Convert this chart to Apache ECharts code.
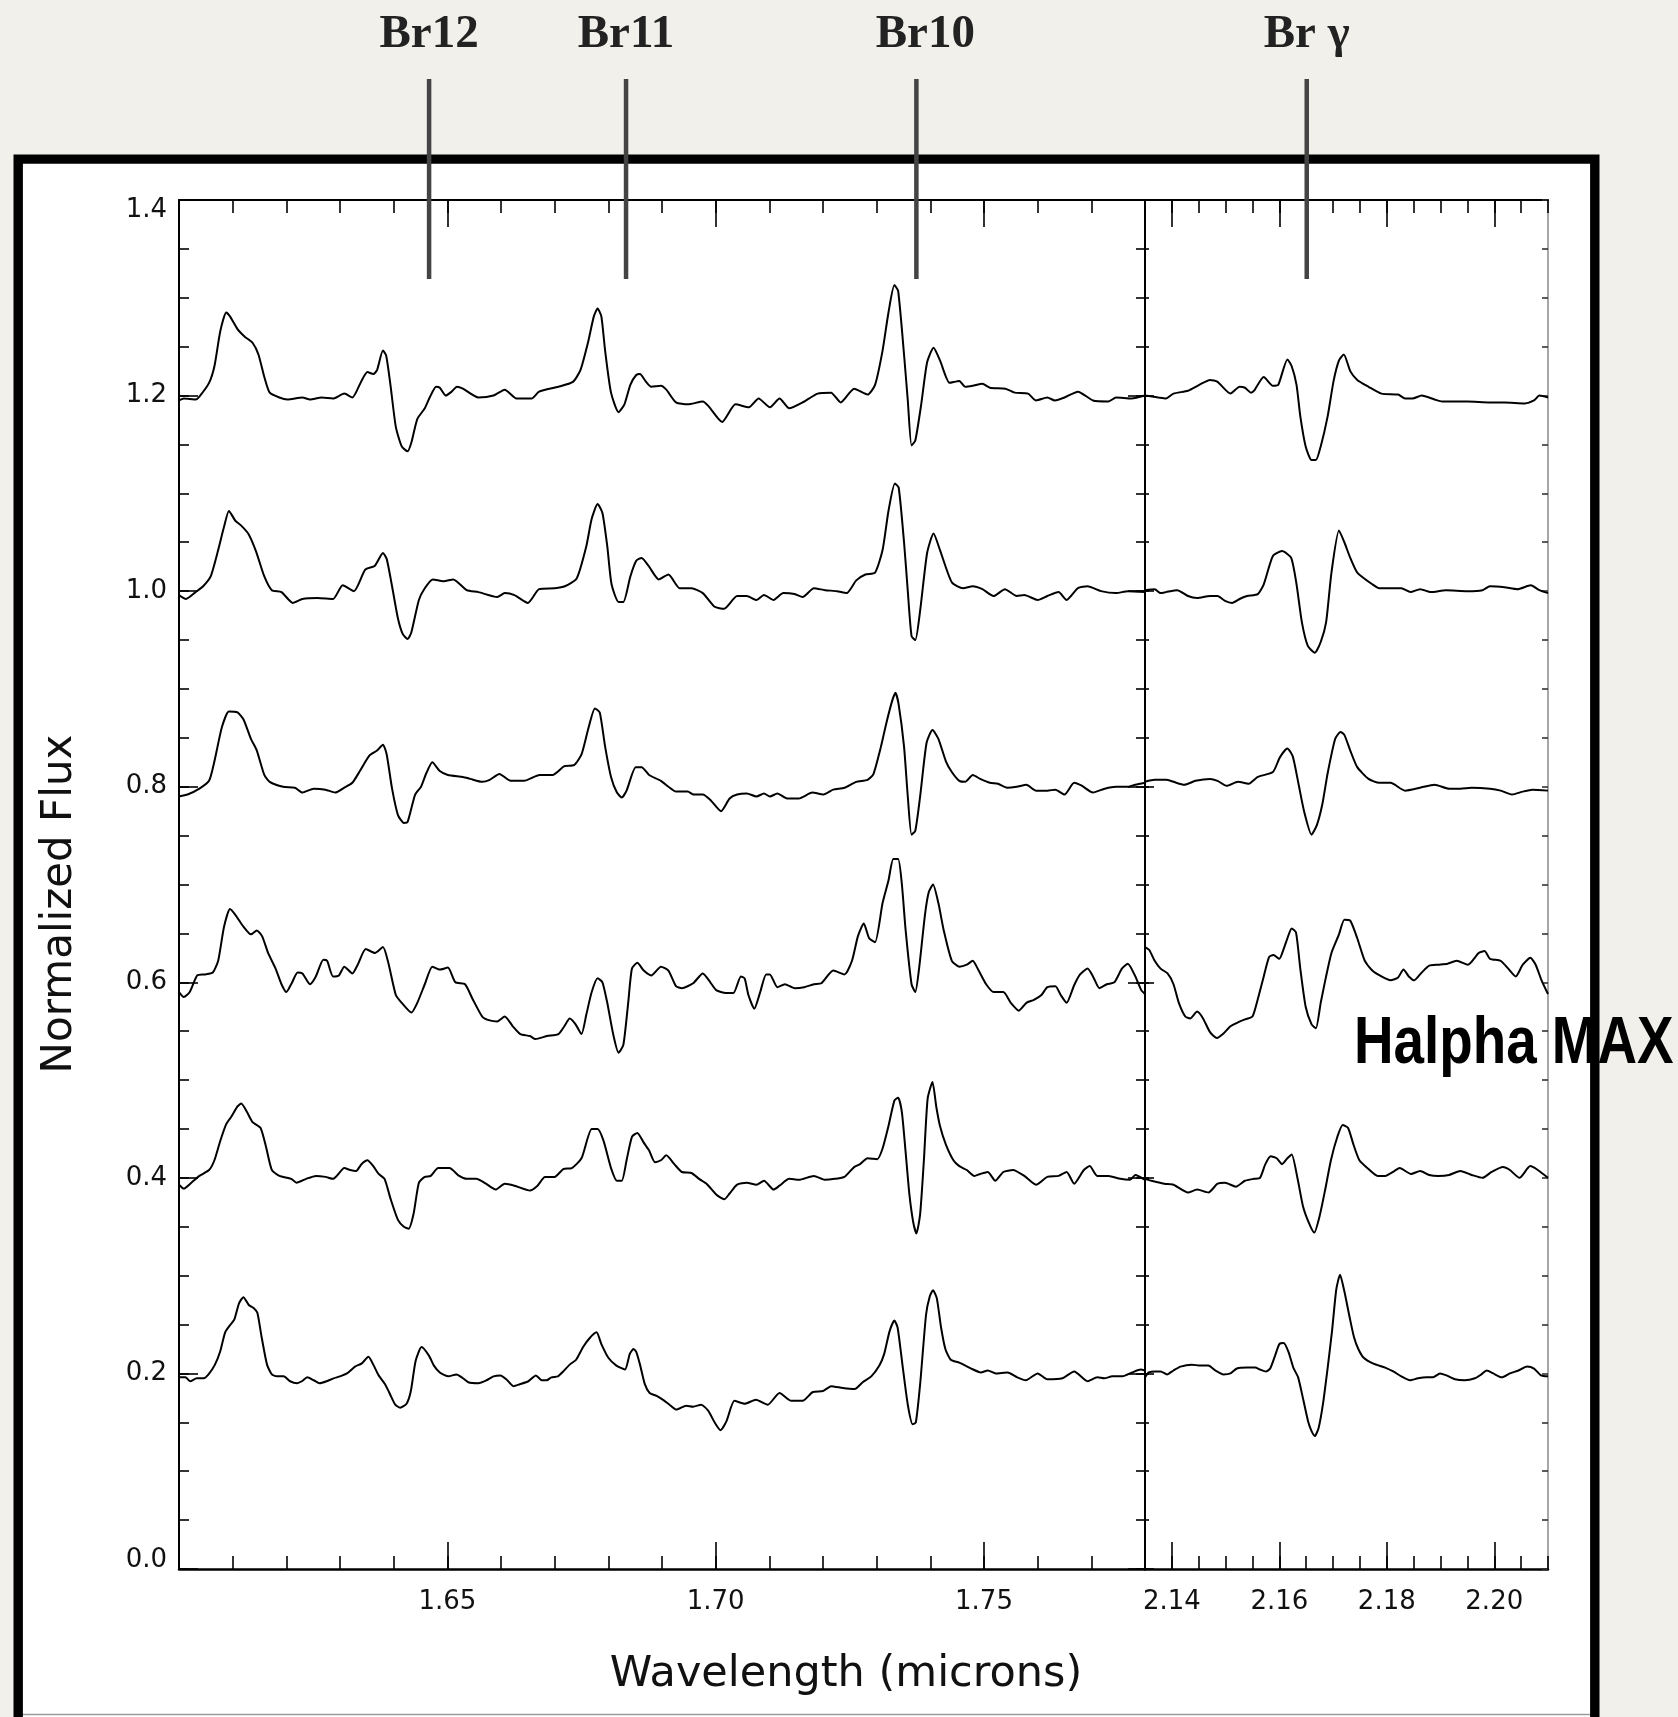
<!DOCTYPE html>
<html><head><meta charset="utf-8">
<script src="https://cdn.jsdelivr.net/npm/echarts@6/dist/echarts.min.js"></script>
<style>html,body{margin:0;padding:0;background:#f2f0eb;}#c{width:1678px;height:1717px;}</style>
</head><body><div id="c"></div>
<script>
// ---------- tick values ----------
const majorTicksLeft = [1.65, 1.70, 1.75];
const majorTicksRight = [2.14, 2.16, 2.18, 2.20];
const rangeLeft = [1.60, 1.78];
const rangeRight = [2.135, 2.21];
const fluxRange = [0, 1.4];

// ---------- line identifications ----------
const markerNames = ['Br12', 'Br11', 'Br10', 'Br γ'];
const markerWaves = [1.6466, 1.6833, 1.7374, 2.1651];

// ---------- spectra: [wavelength (micron), normalized flux] ----------
const s120L = [[1.6000,1.195],[1.6009,1.197],[1.6031,1.196],[1.6038,1.199],[1.6056,1.213],[1.6066,1.230],[1.6077,1.266],[1.6088,1.285],[1.6095,1.281],[1.6109,1.268],[1.6123,1.260],[1.6137,1.254],[1.6148,1.242],[1.6159,1.219],[1.6169,1.203],[1.6187,1.198],[1.6202,1.196],[1.6230,1.198],[1.6244,1.196],[1.6266,1.198],[1.6287,1.197],[1.6308,1.202],[1.6323,1.198],[1.6340,1.215],[1.6351,1.224],[1.6362,1.222],[1.6369,1.226],[1.6380,1.246],[1.6386,1.241],[1.6394,1.211],[1.6404,1.168],[1.6415,1.148],[1.6426,1.143],[1.6433,1.152],[1.6444,1.176],[1.6458,1.187],[1.6468,1.199],[1.6479,1.209],[1.6486,1.208],[1.6497,1.200],[1.6508,1.204],[1.6518,1.209],[1.6529,1.207],[1.6558,1.198],[1.6586,1.200],[1.6607,1.206],[1.6629,1.197],[1.6657,1.197],[1.6671,1.204],[1.6707,1.209],[1.6734,1.214],[1.6748,1.226],[1.6762,1.254],[1.6773,1.281],[1.6780,1.289],[1.6787,1.281],[1.6794,1.246],[1.6805,1.203],[1.6819,1.183],[1.6830,1.191],[1.6841,1.211],[1.6852,1.221],[1.6859,1.222],[1.6869,1.215],[1.6880,1.209],[1.6898,1.210],[1.6908,1.206],[1.6926,1.193],[1.6948,1.191],[1.6976,1.194],[1.6987,1.189],[1.7012,1.173],[1.7037,1.191],[1.7062,1.188],[1.7080,1.197],[1.7101,1.188],[1.7119,1.197],[1.7137,1.187],[1.7162,1.193],[1.7190,1.202],[1.7215,1.203],[1.7233,1.193],[1.7258,1.207],[1.7283,1.201],[1.7297,1.211],[1.7311,1.246],[1.7322,1.285],[1.7333,1.313],[1.7340,1.307],[1.7351,1.242],[1.7358,1.195],[1.7365,1.149],[1.7372,1.154],[1.7383,1.191],[1.7394,1.234],[1.7406,1.249],[1.7418,1.236],[1.7436,1.213],[1.7454,1.215],[1.7465,1.209],[1.7479,1.210],[1.7497,1.212],[1.7511,1.208],[1.7540,1.207],[1.7557,1.203],[1.7582,1.202],[1.7597,1.195],[1.7618,1.198],[1.7632,1.195],[1.7650,1.198],[1.7675,1.204],[1.7703,1.195],[1.7732,1.194],[1.7746,1.198],[1.7775,1.197],[1.7800,1.200]];
const s120R = [[2.1350,1.200],[2.1375,1.198],[2.1389,1.197],[2.1403,1.202],[2.1430,1.205],[2.1451,1.211],[2.1471,1.216],[2.1485,1.214],[2.1509,1.202],[2.1526,1.209],[2.1536,1.208],[2.1547,1.203],[2.1553,1.205],[2.1571,1.219],[2.1588,1.210],[2.1598,1.211],[2.1615,1.237],[2.1623,1.230],[2.1632,1.211],[2.1639,1.179],[2.1649,1.148],[2.1660,1.134],[2.1668,1.134],[2.1677,1.148],[2.1690,1.179],[2.1701,1.215],[2.1711,1.236],[2.1720,1.242],[2.1732,1.225],[2.1745,1.216],[2.1766,1.209],[2.1790,1.202],[2.1821,1.201],[2.1834,1.197],[2.1848,1.197],[2.1865,1.200],[2.1889,1.196],[2.1903,1.194],[2.1950,1.194],[2.1992,1.193],[2.2019,1.193],[2.2057,1.192],[2.2074,1.195],[2.2084,1.200],[2.2100,1.198]];

const s100L = [[1.6000,0.996],[1.6013,0.992],[1.6031,0.999],[1.6045,1.005],[1.6059,1.015],[1.6073,1.042],[1.6084,1.066],[1.6093,1.082],[1.6105,1.072],[1.6116,1.067],[1.6130,1.058],[1.6144,1.040],[1.6159,1.015],[1.6173,1.001],[1.6191,0.999],[1.6212,0.988],[1.6230,0.992],[1.6258,0.993],[1.6287,0.992],[1.6305,1.006],[1.6326,1.000],[1.6347,1.022],[1.6365,1.026],[1.6380,1.039],[1.6387,1.033],[1.6397,1.005],[1.6408,0.972],[1.6417,0.956],[1.6426,0.951],[1.6433,0.958],[1.6447,0.991],[1.6458,1.003],[1.6473,1.012],[1.6493,1.010],[1.6511,1.012],[1.6536,1.001],[1.6558,0.999],[1.6593,0.994],[1.6607,0.998],[1.6625,0.996],[1.6650,0.988],[1.6671,1.002],[1.6700,1.003],[1.6719,1.005],[1.6741,1.013],[1.6759,1.046],[1.6769,1.074],[1.6780,1.089],[1.6789,1.080],[1.6798,1.046],[1.6806,1.007],[1.6819,0.989],[1.6828,0.989],[1.6841,1.015],[1.6852,1.031],[1.6862,1.034],[1.6876,1.025],[1.6894,1.012],[1.6912,1.017],[1.6933,1.003],[1.6955,1.003],[1.6976,0.998],[1.6998,0.984],[1.7016,0.982],[1.7040,0.995],[1.7058,0.995],[1.7076,0.991],[1.7090,0.996],[1.7108,0.991],[1.7126,0.998],[1.7147,0.997],[1.7162,0.994],[1.7183,1.003],[1.7204,1.001],[1.7226,1.000],[1.7244,0.998],[1.7262,1.011],[1.7279,1.017],[1.7297,1.019],[1.7311,1.042],[1.7322,1.082],[1.7334,1.110],[1.7341,1.106],[1.7351,1.050],[1.7358,1.000],[1.7365,0.954],[1.7372,0.950],[1.7381,0.980],[1.7394,1.039],[1.7406,1.059],[1.7418,1.042],[1.7440,1.009],[1.7461,1.003],[1.7479,1.005],[1.7497,1.002],[1.7518,0.995],[1.7539,1.002],[1.7561,0.995],[1.7575,0.996],[1.7600,0.991],[1.7618,0.995],[1.7639,0.999],[1.7654,0.991],[1.7675,1.003],[1.7693,1.005],[1.7718,1.000],[1.7746,0.998],[1.7768,1.000],[1.7800,0.999]];
const s100R = [[2.1350,1.001],[2.1368,1.002],[2.1379,0.998],[2.1389,0.999],[2.1410,1.001],[2.1430,0.995],[2.1447,0.993],[2.1471,0.995],[2.1485,0.995],[2.1499,0.990],[2.1512,0.988],[2.1526,0.992],[2.1540,0.995],[2.1560,0.997],[2.1571,1.007],[2.1588,1.036],[2.1605,1.041],[2.1622,1.034],[2.1632,1.007],[2.1642,0.968],[2.1653,0.944],[2.1666,0.937],[2.1677,0.948],[2.1687,0.968],[2.1697,1.019],[2.1711,1.062],[2.1721,1.050],[2.1732,1.034],[2.1745,1.019],[2.1773,1.007],[2.1786,1.003],[2.1827,1.003],[2.1844,0.999],[2.1862,1.002],[2.1882,0.999],[2.1910,1.001],[2.1950,1.000],[2.1978,1.001],[2.1992,1.005],[2.2019,1.004],[2.2043,1.002],[2.2068,1.006],[2.2084,1.001],[2.2100,0.998]];

const s080L = [[1.6000,0.790],[1.6016,0.792],[1.6038,0.798],[1.6056,0.806],[1.6066,0.826],[1.6080,0.861],[1.6093,0.877],[1.6109,0.876],[1.6120,0.869],[1.6134,0.849],[1.6145,0.837],[1.6159,0.812],[1.6169,0.805],[1.6194,0.800],[1.6216,0.799],[1.6230,0.794],[1.6251,0.798],[1.6273,0.797],[1.6291,0.794],[1.6308,0.799],[1.6323,0.804],[1.6337,0.816],[1.6355,0.832],[1.6369,0.837],[1.6380,0.843],[1.6387,0.833],[1.6397,0.798],[1.6408,0.771],[1.6419,0.763],[1.6426,0.764],[1.6440,0.792],[1.6451,0.800],[1.6461,0.814],[1.6472,0.825],[1.6486,0.816],[1.6501,0.812],[1.6529,0.810],[1.6543,0.808],[1.6565,0.805],[1.6579,0.807],[1.6597,0.813],[1.6618,0.806],[1.6643,0.806],[1.6672,0.812],[1.6696,0.812],[1.6718,0.821],[1.6736,0.822],[1.6750,0.833],[1.6763,0.860],[1.6775,0.880],[1.6784,0.876],[1.6794,0.841],[1.6805,0.810],[1.6816,0.794],[1.6825,0.789],[1.6834,0.796],[1.6851,0.820],[1.6862,0.820],[1.6876,0.812],[1.6898,0.806],[1.6912,0.800],[1.6926,0.795],[1.6948,0.795],[1.6959,0.792],[1.6976,0.792],[1.6991,0.786],[1.7010,0.775],[1.7026,0.788],[1.7040,0.792],[1.7058,0.793],[1.7076,0.790],[1.7090,0.793],[1.7101,0.790],[1.7115,0.793],[1.7133,0.788],[1.7155,0.788],[1.7180,0.794],[1.7201,0.792],[1.7219,0.797],[1.7240,0.799],[1.7262,0.805],[1.7283,0.807],[1.7294,0.813],[1.7308,0.841],[1.7318,0.865],[1.7329,0.888],[1.7335,0.896],[1.7341,0.884],[1.7351,0.841],[1.7358,0.790],[1.7365,0.751],[1.7372,0.755],[1.7381,0.790],[1.7393,0.845],[1.7404,0.858],[1.7415,0.849],[1.7429,0.826],[1.7440,0.815],[1.7454,0.806],[1.7465,0.805],[1.7479,0.812],[1.7493,0.808],[1.7511,0.804],[1.7526,0.803],[1.7543,0.799],[1.7561,0.800],[1.7579,0.802],[1.7597,0.796],[1.7618,0.796],[1.7633,0.797],[1.7650,0.792],[1.7668,0.804],[1.7682,0.801],[1.7703,0.794],[1.7725,0.798],[1.7746,0.800],[1.7768,0.800],[1.7782,0.802],[1.7800,0.804]];
const s080R = [[2.1350,0.805],[2.1368,0.807],[2.1389,0.807],[2.1403,0.805],[2.1423,0.802],[2.1444,0.806],[2.1471,0.808],[2.1485,0.806],[2.1502,0.801],[2.1523,0.805],[2.1543,0.803],[2.1560,0.810],[2.1588,0.815],[2.1601,0.830],[2.1615,0.839],[2.1625,0.831],[2.1636,0.802],[2.1646,0.775],[2.1660,0.751],[2.1670,0.761],[2.1680,0.782],[2.1690,0.814],[2.1704,0.849],[2.1714,0.856],[2.1721,0.853],[2.1732,0.837],[2.1745,0.820],[2.1766,0.808],[2.1786,0.804],[2.1807,0.804],[2.1834,0.796],[2.1862,0.799],[2.1889,0.802],[2.1916,0.798],[2.1937,0.798],[2.1958,0.799],[2.1992,0.798],[2.2012,0.796],[2.2033,0.792],[2.2053,0.795],[2.2071,0.797],[2.2100,0.796]];

const s060L = [[1.6000,0.590],[1.6009,0.585],[1.6020,0.590],[1.6034,0.607],[1.6048,0.608],[1.6063,0.610],[1.6073,0.622],[1.6084,0.657],[1.6095,0.675],[1.6105,0.669],[1.6120,0.657],[1.6134,0.649],[1.6145,0.653],[1.6155,0.647],[1.6166,0.630],[1.6180,0.614],[1.6191,0.598],[1.6200,0.590],[1.6210,0.599],[1.6221,0.610],[1.6230,0.609],[1.6244,0.598],[1.6255,0.606],[1.6269,0.623],[1.6276,0.622],[1.6287,0.606],[1.6298,0.607],[1.6308,0.616],[1.6323,0.609],[1.6333,0.618],[1.6348,0.634],[1.6365,0.630],[1.6380,0.636],[1.6390,0.620],[1.6404,0.587],[1.6415,0.579],[1.6433,0.569],[1.6444,0.579],[1.6458,0.598],[1.6472,0.616],[1.6486,0.613],[1.6501,0.615],[1.6515,0.600],[1.6533,0.598],[1.6547,0.583],[1.6565,0.565],[1.6579,0.561],[1.6593,0.560],[1.6607,0.565],[1.6622,0.555],[1.6636,0.547],[1.6654,0.545],[1.6664,0.542],[1.6686,0.545],[1.6707,0.547],[1.6718,0.555],[1.6728,0.563],[1.6739,0.557],[1.6750,0.547],[1.6759,0.567],[1.6769,0.590],[1.6780,0.604],[1.6789,0.600],[1.6798,0.579],[1.6809,0.547],[1.6819,0.528],[1.6828,0.536],[1.6837,0.579],[1.6844,0.614],[1.6854,0.620],[1.6866,0.612],[1.6880,0.607],[1.6898,0.616],[1.6912,0.612],[1.6926,0.596],[1.6937,0.594],[1.6958,0.599],[1.6976,0.609],[1.6990,0.600],[1.7001,0.592],[1.7019,0.589],[1.7033,0.589],[1.7047,0.606],[1.7054,0.604],[1.7061,0.587],[1.7072,0.573],[1.7083,0.590],[1.7094,0.608],[1.7101,0.608],[1.7115,0.595],[1.7129,0.598],[1.7147,0.594],[1.7165,0.595],[1.7183,0.598],[1.7197,0.599],[1.7219,0.612],[1.7240,0.608],[1.7254,0.622],[1.7265,0.647],[1.7276,0.660],[1.7286,0.645],[1.7297,0.641],[1.7311,0.681],[1.7322,0.704],[1.7331,0.726],[1.7340,0.726],[1.7347,0.700],[1.7354,0.653],[1.7365,0.598],[1.7372,0.590],[1.7379,0.614],[1.7390,0.669],[1.7397,0.692],[1.7405,0.700],[1.7415,0.681],[1.7425,0.653],[1.7440,0.622],[1.7454,0.616],[1.7468,0.618],[1.7479,0.622],[1.7490,0.612],[1.7504,0.598],[1.7518,0.590],[1.7536,0.590],[1.7550,0.579],[1.7565,0.571],[1.7579,0.579],[1.7593,0.582],[1.7607,0.587],[1.7618,0.595],[1.7633,0.596],[1.7643,0.587],[1.7654,0.579],[1.7668,0.597],[1.7679,0.608],[1.7693,0.614],[1.7704,0.605],[1.7715,0.594],[1.7729,0.598],[1.7743,0.600],[1.7757,0.614],[1.7768,0.619],[1.7782,0.606],[1.7793,0.592],[1.7800,0.588]];
const s060R = [[2.1350,0.636],[2.1358,0.633],[2.1368,0.622],[2.1379,0.614],[2.1392,0.609],[2.1403,0.598],[2.1413,0.579],[2.1425,0.565],[2.1434,0.563],[2.1447,0.570],[2.1458,0.563],[2.1471,0.549],[2.1484,0.543],[2.1495,0.547],[2.1509,0.555],[2.1523,0.559],[2.1536,0.562],[2.1550,0.565],[2.1560,0.583],[2.1571,0.606],[2.1581,0.626],[2.1589,0.628],[2.1600,0.624],[2.1608,0.634],[2.1615,0.645],[2.1623,0.655],[2.1631,0.651],[2.1639,0.614],[2.1649,0.575],[2.1660,0.557],[2.1668,0.553],[2.1677,0.579],[2.1687,0.606],[2.1697,0.630],[2.1711,0.649],[2.1721,0.664],[2.1732,0.663],[2.1745,0.645],[2.1759,0.622],[2.1773,0.612],[2.1790,0.606],[2.1807,0.602],[2.1821,0.605],[2.1831,0.613],[2.1841,0.606],[2.1851,0.602],[2.1865,0.610],[2.1879,0.617],[2.1896,0.618],[2.1913,0.619],[2.1930,0.622],[2.1951,0.618],[2.1971,0.630],[2.1982,0.632],[2.1992,0.624],[2.2012,0.622],[2.2026,0.614],[2.2040,0.606],[2.2053,0.618],[2.2067,0.625],[2.2077,0.618],[2.2088,0.602],[2.2100,0.588]];

const s040L = [[1.6000,0.393],[1.6009,0.389],[1.6023,0.395],[1.6038,0.402],[1.6056,0.408],[1.6066,0.418],[1.6077,0.438],[1.6088,0.455],[1.6098,0.463],[1.6109,0.473],[1.6116,0.476],[1.6127,0.467],[1.6137,0.457],[1.6152,0.451],[1.6162,0.432],[1.6173,0.408],[1.6187,0.402],[1.6209,0.399],[1.6219,0.395],[1.6237,0.399],[1.6255,0.402],[1.6273,0.401],[1.6287,0.399],[1.6294,0.402],[1.6308,0.410],[1.6319,0.408],[1.6330,0.407],[1.6340,0.414],[1.6351,0.418],[1.6362,0.412],[1.6372,0.404],[1.6383,0.399],[1.6394,0.379],[1.6408,0.357],[1.6419,0.350],[1.6428,0.348],[1.6437,0.363],[1.6447,0.395],[1.6458,0.401],[1.6469,0.402],[1.6483,0.410],[1.6504,0.410],[1.6522,0.402],[1.6536,0.399],[1.6554,0.399],[1.6572,0.394],[1.6590,0.388],[1.6607,0.394],[1.6625,0.392],[1.6654,0.387],[1.6668,0.392],[1.6682,0.401],[1.6700,0.401],[1.6716,0.409],[1.6732,0.410],[1.6750,0.420],[1.6769,0.450],[1.6780,0.450],[1.6791,0.438],[1.6805,0.410],[1.6816,0.397],[1.6825,0.397],[1.6834,0.418],[1.6844,0.442],[1.6854,0.446],[1.6866,0.436],[1.6876,0.428],[1.6887,0.416],[1.6898,0.418],[1.6908,0.423],[1.6923,0.414],[1.6937,0.406],[1.6955,0.405],[1.6969,0.399],[1.6983,0.394],[1.7001,0.383],[1.7016,0.378],[1.7026,0.384],[1.7040,0.393],[1.7058,0.395],[1.7076,0.393],[1.7090,0.397],[1.7108,0.388],[1.7119,0.392],[1.7137,0.399],[1.7155,0.398],[1.7183,0.402],[1.7204,0.398],[1.7222,0.399],[1.7240,0.401],[1.7258,0.411],[1.7269,0.414],[1.7283,0.420],[1.7301,0.419],[1.7311,0.430],[1.7322,0.453],[1.7333,0.479],[1.7340,0.482],[1.7347,0.467],[1.7354,0.426],[1.7361,0.383],[1.7368,0.355],[1.7374,0.343],[1.7381,0.363],[1.7388,0.418],[1.7395,0.481],[1.7404,0.498],[1.7411,0.473],[1.7418,0.453],[1.7429,0.434],[1.7443,0.418],[1.7454,0.412],[1.7468,0.408],[1.7482,0.402],[1.7493,0.404],[1.7507,0.406],[1.7521,0.397],[1.7536,0.406],[1.7554,0.408],[1.7575,0.402],[1.7597,0.393],[1.7618,0.401],[1.7639,0.402],[1.7654,0.406],[1.7668,0.394],[1.7686,0.408],[1.7697,0.412],[1.7711,0.402],[1.7732,0.402],[1.7754,0.399],[1.7772,0.398],[1.7782,0.403],[1.7800,0.398]];
const s040R = [[2.1350,0.399],[2.1362,0.397],[2.1386,0.394],[2.1403,0.393],[2.1430,0.385],[2.1447,0.388],[2.1468,0.385],[2.1485,0.394],[2.1499,0.395],[2.1519,0.391],[2.1536,0.397],[2.1553,0.399],[2.1564,0.400],[2.1574,0.414],[2.1584,0.422],[2.1595,0.420],[2.1605,0.414],[2.1615,0.420],[2.1623,0.424],[2.1634,0.399],[2.1644,0.371],[2.1655,0.354],[2.1665,0.344],[2.1675,0.361],[2.1685,0.387],[2.1696,0.418],[2.1708,0.442],[2.1718,0.454],[2.1728,0.451],[2.1738,0.434],[2.1749,0.418],[2.1766,0.409],[2.1783,0.402],[2.1797,0.402],[2.1814,0.407],[2.1824,0.410],[2.1845,0.404],[2.1862,0.407],[2.1879,0.403],[2.1896,0.402],[2.1916,0.403],[2.1937,0.407],[2.1958,0.403],[2.1978,0.400],[2.1995,0.406],[2.2016,0.411],[2.2029,0.408],[2.2047,0.400],[2.2067,0.412],[2.2081,0.408],[2.2100,0.400]];

const s020L = [[1.6000,0.196],[1.6012,0.196],[1.6021,0.192],[1.6033,0.195],[1.6046,0.195],[1.6055,0.199],[1.6067,0.209],[1.6077,0.223],[1.6086,0.242],[1.6096,0.250],[1.6103,0.255],[1.6112,0.272],[1.6120,0.278],[1.6130,0.270],[1.6139,0.267],[1.6146,0.262],[1.6154,0.237],[1.6164,0.209],[1.6173,0.199],[1.6182,0.197],[1.6195,0.197],[1.6207,0.192],[1.6220,0.190],[1.6229,0.192],[1.6239,0.196],[1.6251,0.193],[1.6262,0.190],[1.6275,0.192],[1.6288,0.195],[1.6300,0.197],[1.6313,0.200],[1.6328,0.207],[1.6340,0.210],[1.6353,0.217],[1.6362,0.209],[1.6372,0.198],[1.6384,0.189],[1.6393,0.179],[1.6403,0.168],[1.6412,0.165],[1.6424,0.169],[1.6432,0.182],[1.6441,0.213],[1.6452,0.227],[1.6466,0.218],[1.6475,0.208],[1.6486,0.201],[1.6502,0.197],[1.6517,0.199],[1.6527,0.196],[1.6539,0.191],[1.6558,0.190],[1.6573,0.193],[1.6586,0.197],[1.6599,0.198],[1.6610,0.194],[1.6623,0.187],[1.6635,0.189],[1.6651,0.192],[1.6665,0.198],[1.6676,0.193],[1.6685,0.193],[1.6694,0.196],[1.6706,0.197],[1.6716,0.202],[1.6728,0.209],[1.6740,0.214],[1.6753,0.227],[1.6765,0.236],[1.6778,0.242],[1.6787,0.230],[1.6800,0.216],[1.6815,0.208],[1.6831,0.204],[1.6840,0.220],[1.6847,0.225],[1.6852,0.222],[1.6859,0.209],[1.6868,0.189],[1.6877,0.180],[1.6890,0.177],[1.6902,0.173],[1.6914,0.168],[1.6927,0.163],[1.6945,0.167],[1.6958,0.166],[1.6973,0.168],[1.6986,0.162],[1.6998,0.150],[1.7009,0.142],[1.7020,0.151],[1.7035,0.172],[1.7054,0.169],[1.7075,0.173],[1.7097,0.168],[1.7119,0.180],[1.7141,0.172],[1.7162,0.172],[1.7181,0.181],[1.7200,0.182],[1.7215,0.187],[1.7237,0.185],[1.7259,0.184],[1.7274,0.191],[1.7290,0.197],[1.7305,0.208],[1.7314,0.220],[1.7324,0.243],[1.7333,0.254],[1.7339,0.247],[1.7348,0.209],[1.7358,0.168],[1.7367,0.148],[1.7373,0.150],[1.7381,0.189],[1.7392,0.260],[1.7399,0.279],[1.7405,0.285],[1.7412,0.277],[1.7420,0.247],[1.7428,0.225],[1.7438,0.214],[1.7454,0.211],[1.7476,0.205],[1.7494,0.201],[1.7507,0.203],[1.7522,0.200],[1.7544,0.201],[1.7562,0.196],[1.7578,0.193],[1.7600,0.200],[1.7618,0.194],[1.7646,0.195],[1.7668,0.202],[1.7693,0.192],[1.7711,0.196],[1.7724,0.195],[1.7739,0.197],[1.7758,0.197],[1.7776,0.201],[1.7792,0.204],[1.7800,0.203]];
const s020R = [[2.1350,0.196],[2.1357,0.201],[2.1369,0.202],[2.1379,0.202],[2.1391,0.199],[2.1403,0.203],[2.1416,0.207],[2.1437,0.209],[2.1453,0.208],[2.1468,0.208],[2.1481,0.203],[2.1496,0.199],[2.1509,0.200],[2.1521,0.205],[2.1540,0.206],[2.1555,0.206],[2.1564,0.204],[2.1575,0.202],[2.1583,0.205],[2.1592,0.218],[2.1600,0.230],[2.1608,0.231],[2.1617,0.222],[2.1626,0.206],[2.1635,0.196],[2.1645,0.172],[2.1654,0.150],[2.1660,0.141],[2.1666,0.136],[2.1673,0.144],[2.1681,0.168],[2.1690,0.206],[2.1698,0.243],[2.1706,0.286],[2.1713,0.301],[2.1721,0.284],[2.1731,0.257],[2.1739,0.237],[2.1747,0.225],[2.1757,0.216],[2.1775,0.210],[2.1797,0.206],[2.1812,0.202],[2.1827,0.197],[2.1843,0.193],[2.1858,0.195],[2.1874,0.196],[2.1886,0.196],[2.1899,0.200],[2.1911,0.198],[2.1927,0.194],[2.1945,0.193],[2.1964,0.195],[2.1976,0.199],[2.1986,0.203],[2.1998,0.200],[2.2014,0.196],[2.2029,0.200],[2.2045,0.203],[2.2061,0.207],[2.2074,0.205],[2.2087,0.198],[2.2100,0.197]];

const spectraLeft = [s120L, s100L, s080L, s060L, s040L, s020L];
const spectraRight = [s120R, s100R, s080R, s060R, s040R, s020R];

// ---------- chart ----------
const FONT = 'DejaVu Sans';
const chart = echarts.init(document.getElementById('c'), null, {renderer: 'canvas'});

function tickStyle(len, color) {
  return {show: true, inside: true, length: len, lineStyle: {color: color || '#000', width: 1.6}};
}
const noLabel = {show: false};
const noSplit = {show: false};
function axLine(show, width, color) {
  return {show: show, onZero: false, lineStyle: {color: color || '#000', width: width || 2}};
}
const xLabelStyle = {show: true, margin: 20, fontSize: 26, fontFamily: FONT, color: '#111',
  formatter: v => Number(v).toFixed(2)};

const xAxis = [
  // left panel
  {type: 'value', gridIndex: 0, position: 'bottom', min: rangeLeft[0], max: rangeLeft[1], interval: 0.01,
   axisLine: axLine(true, 2.5), axisTick: tickStyle(13), axisLabel: noLabel, splitLine: noSplit},
  {type: 'value', gridIndex: 0, position: 'bottom', min: rangeLeft[0], max: rangeLeft[1],
   axisLine: axLine(false), axisTick: Object.assign(tickStyle(27), {customValues: majorTicksLeft}),
   axisLabel: Object.assign({customValues: majorTicksLeft}, xLabelStyle), splitLine: noSplit},
  {type: 'value', gridIndex: 0, position: 'top', min: rangeLeft[0], max: rangeLeft[1], interval: 0.01,
   axisLine: axLine(true, 2), axisTick: tickStyle(13), axisLabel: noLabel, splitLine: noSplit},
  {type: 'value', gridIndex: 0, position: 'top', min: rangeLeft[0], max: rangeLeft[1],
   axisLine: axLine(false), axisTick: Object.assign(tickStyle(27), {customValues: majorTicksLeft}),
   axisLabel: noLabel, splitLine: noSplit},
  // right panel
  {type: 'value', gridIndex: 1, position: 'bottom', min: rangeRight[0], max: rangeRight[1], interval: 0.005,
   axisLine: axLine(true, 2.5), axisTick: tickStyle(13), axisLabel: noLabel, splitLine: noSplit},
  {type: 'value', gridIndex: 1, position: 'bottom', min: rangeRight[0], max: rangeRight[1],
   axisLine: axLine(false), axisTick: Object.assign(tickStyle(27), {customValues: majorTicksRight}),
   axisLabel: Object.assign({customValues: majorTicksRight}, xLabelStyle), splitLine: noSplit},
  {type: 'value', gridIndex: 1, position: 'top', min: rangeRight[0], max: rangeRight[1], interval: 0.005,
   axisLine: axLine(true, 2), axisTick: tickStyle(13), axisLabel: noLabel, splitLine: noSplit},
  {type: 'value', gridIndex: 1, position: 'top', min: rangeRight[0], max: rangeRight[1],
   axisLine: axLine(false), axisTick: Object.assign(tickStyle(27), {customValues: majorTicksRight}),
   axisLabel: noLabel, splitLine: noSplit},
  // annotation strips
  {type: 'value', gridIndex: 2, min: rangeLeft[0], max: rangeLeft[1], show: false},
  {type: 'value', gridIndex: 3, min: rangeRight[0], max: rangeRight[1], show: false}
];

const yLabel = {
  show: true, margin: 12, fontSize: 26, fontFamily: FONT, color: '#111',
  formatter: function (v) {
    const s = Number(v).toFixed(1);
    if (v > fluxRange[1] - 0.01) return '{t|' + s + '}';
    if (v < fluxRange[0] + 0.01) return '{b|' + s + '}';
    return s;
  },
  rich: {
    t: {padding: [20, 0, 0, 0], fontSize: 26, fontFamily: FONT, color: '#111'},
    b: {padding: [0, 0, 18, 0], fontSize: 26, fontFamily: FONT, color: '#111'}
  }
};
function yA(grid, pos, interval, line, tick, label) {
  return {type: 'value', gridIndex: grid, position: pos, min: fluxRange[0], max: fluxRange[1], interval: interval,
    axisLine: line, axisTick: tick, axisLabel: label || noLabel, splitLine: noSplit};
}
const yAxis = [
  yA(0, 'left', 0.05, axLine(true, 2), tickStyle(10)),
  yA(0, 'left', 0.2, axLine(false), tickStyle(19), yLabel),
  yA(0, 'right', 0.05, axLine(true, 2), tickStyle(9)),
  yA(0, 'right', 0.2, axLine(false), tickStyle(17)),
  yA(1, 'left', 0.05, axLine(true, 2), tickStyle(4)),
  yA(1, 'left', 0.2, axLine(false), tickStyle(9)),
  yA(1, 'right', 0.05, axLine(true, 1.5, '#8a8a8a'), tickStyle(6, '#333')),
  {type: 'value', gridIndex: 2, min: 0, max: 1, show: false},
  {type: 'value', gridIndex: 3, min: 0, max: 1, show: false}
];

const series = [];
spectraLeft.forEach(function (d) {
  series.push({type: 'line', xAxisIndex: 0, yAxisIndex: 0, data: d, showSymbol: false, smooth: 0.2,
    lineStyle: {color: '#000', width: 2}, silent: true, z: 5});
});
spectraRight.forEach(function (d) {
  series.push({type: 'line', xAxisIndex: 4, yAxisIndex: 4, data: d, showSymbol: false, smooth: 0.2,
    lineStyle: {color: '#000', width: 2}, silent: true, z: 5});
});
markerNames.forEach(function (name, i) {
  const w = markerWaves[i];
  const right = w > rangeLeft[1];
  const labelShift = name === 'Br10' ? [9, 0] : [0, 0];
  series.push({
    type: 'line', xAxisIndex: right ? 9 : 8, yAxisIndex: right ? 8 : 7,
    data: [[w, 0], {value: [w, 1], label: {show: true}}],
    symbol: 'circle', symbolSize: 0, showSymbol: true, silent: true, z: 6,
    lineStyle: {color: '#444', width: 4.5},
    itemStyle: {color: '#444'},
    label: {show: false, position: 'top', distance: 21, offset: labelShift, formatter: name,
      fontFamily: 'Liberation Serif', fontWeight: 'bold', fontSize: 47, color: '#222'}
  });
});

const option = {
  animation: false,
  backgroundColor: '#f2f0eb',
  grid: [
    {left: 179, top: 200, width: 966, height: 1369},
    {left: 1145, top: 200, width: 403, height: 1369},
    {left: 179, top: 79, width: 966, height: 200},
    {left: 1145, top: 79, width: 403, height: 200}
  ],
  xAxis: xAxis,
  yAxis: yAxis,
  series: series,
  graphic: [
    {type: 'rect', z: -10, silent: true,
     shape: {x: 18.2, y: 159.1, width: 1576.6, height: 1620},
     style: {fill: '#ffffff', stroke: '#000000', lineWidth: 9.4}},
    {type: 'line', z: -9, silent: true,
     shape: {x1: 23, y1: 1714.5, x2: 1590, y2: 1714.5},
     style: {stroke: '#9a9a9a', lineWidth: 1.5}},
    {type: 'text', z: 50, silent: true, x: 60, y: 904, rotation: Math.PI / 2,
     style: {text: 'Normalized Flux', fontFamily: FONT, fontSize: 42, fill: '#111',
       align: 'center', verticalAlign: 'middle', textAlign: 'center', textVerticalAlign: 'middle'}},
    {type: 'text', z: 50, silent: true, x: 846, y: 1675,
     style: {text: 'Wavelength (microns)', fontFamily: FONT, fontSize: 43, fill: '#111',
       align: 'center', verticalAlign: 'middle', textAlign: 'center', textVerticalAlign: 'middle'}},
    {type: 'text', z: 60, silent: true, x: 1354, y: 1045, scaleX: 0.83,
     style: {text: 'Halpha MAX', fontFamily: 'Liberation Sans', fontWeight: 'bold', fontSize: 66, fill: '#000',
       align: 'left', verticalAlign: 'middle', textAlign: 'left', textVerticalAlign: 'middle'}}
  ]
};
chart.setOption(option);
</script></body></html>
